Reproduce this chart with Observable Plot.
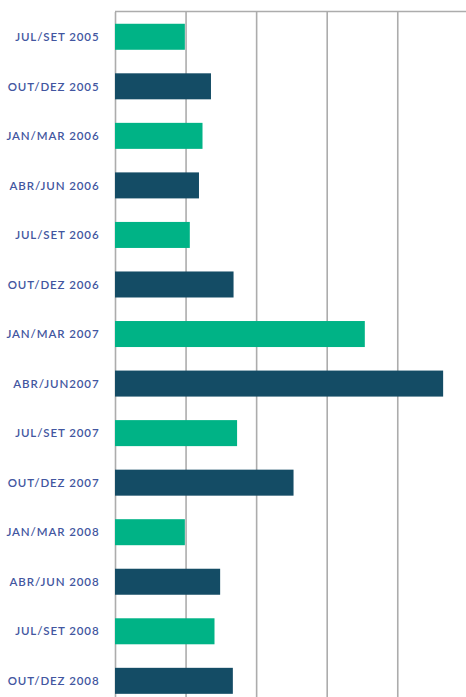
<!DOCTYPE html>
<html>
<head>
<meta charset="utf-8">
<script src="https://cdn.jsdelivr.net/npm/d3@7"></script>
<script src="https://cdn.jsdelivr.net/npm/@observablehq/plot@0.6"></script>
<style>
  html, body { margin: 0; padding: 0; background: #fff; overflow: hidden; }
  #chart svg text { letter-spacing: 0.9px; }
</style>
</head>
<body>
<div id="chart"></div>
<script>
const periods = [
  "JUL/SET 2005", "OUT/DEZ 2005", "JAN/MAR 2006", "ABR/JUN 2006",
  "JUL/SET 2006", "OUT/DEZ 2006", "JAN/MAR 2007", "ABR/JUN2007",
  "JUL/SET 2007", "OUT/DEZ 2007", "JAN/MAR 2008", "ABR/JUN 2008",
  "JUL/SET 2008", "OUT/DEZ 2008"
];
const values = [0.99, 1.36, 1.24, 1.19, 1.06, 1.68, 3.54, 4.65, 1.73, 2.53, 0.99, 1.49, 1.41, 1.67];
const tones = ["a","b","a","b","a","b","a","b","a","b","a","b","a","b"];
const gridTicks = [1, 2, 3, 4, 5];

const data = periods.map((p, i) => ({period: p, value: values[i], tone: tones[i]}));

const chart = Plot.plot({
  width: 466,
  height: 697,
  marginLeft: 115,
  marginRight: 0,
  marginTop: 12,
  marginBottom: 0,
  style: {fontFamily: "Lato, sans-serif", fontSize: "11.5px", fontWeight: 600, color: "#4256a0", background: "#fff"},
  x: {domain: [0, 4.974], axis: null},
  y: {domain: periods, range: [12, 705.6], round: false, paddingInner: 0.475, paddingOuter: 0.2375, label: null, tickSize: 0, tickPadding: 16},
  color: {type: "ordinal", domain: ["a", "b"], range: ["#00b386", "#144c65"]},
  marks: [
    Plot.gridX(gridTicks, {stroke: "#acacac", strokeOpacity: 1, strokeWidth: 1.6}),
    Plot.ruleX([0], {stroke: "#acacac", strokeWidth: 1.6}),
    Plot.barX(data, {x: "value", y: "period", fill: "tone"})
  ]
});

// top border line of the frame
d3.select(chart).append("line")
  .attr("x1", 115).attr("x2", 466)
  .attr("y1", 11.5).attr("y2", 11.5)
  .attr("stroke", "#acacac").attr("stroke-width", 1.6);

document.getElementById("chart").appendChild(chart);
</script>
</body>
</html>
